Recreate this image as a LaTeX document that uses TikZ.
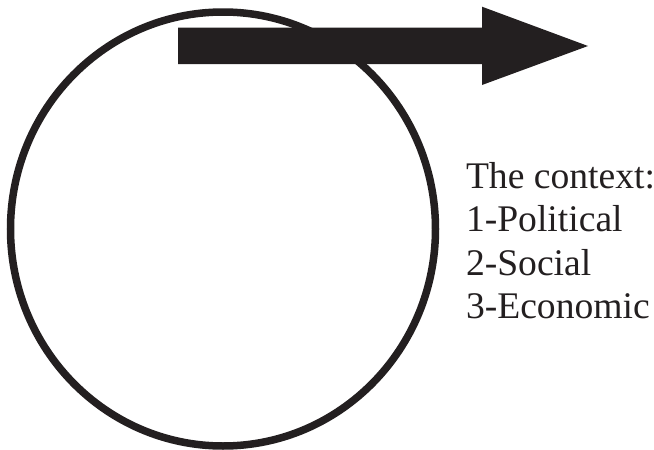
\documentclass[tikz,border=0pt]{standalone}
\usepackage{fontspec}
\setmainfont{Liberation Serif}
\usetikzlibrary{shapes.geometric}
\definecolor{ink}{HTML}{231F20}

\begin{document}
\begin{tikzpicture}[x=1pt,y=-1pt,
  every node/.style={inner sep=0pt,outer sep=0pt},
  label/.style={anchor=base west,font=\fontsize{37.6}{43}\selectfont,text=ink}]
\useasboundingbox (0,0) rectangle (654,450);
\node[draw=ink,line width=7.5pt,shape=ellipse,minimum width=425pt,minimum height=434pt] (circ) at (223,229) {};
\coordinate (tail) at (178,46);
\coordinate (tip) at (588,46);
\fill[ink] (tail) ++(0,-18.3) -- ++(304,0) -- ++(0,-21) -- (tip) -- ++(-106,39) -- ++(0,-21) -- ++(-304,0) -- cycle;
\node[label] (t0) at (466,188) {The context:};
\node[label] (t1) at (466,231) {1-Political};
\node[label] (t2) at (466,275) {2-Social};
\node[label] (t3) at (466,318) {3-Economic};
\end{tikzpicture}
\end{document}
